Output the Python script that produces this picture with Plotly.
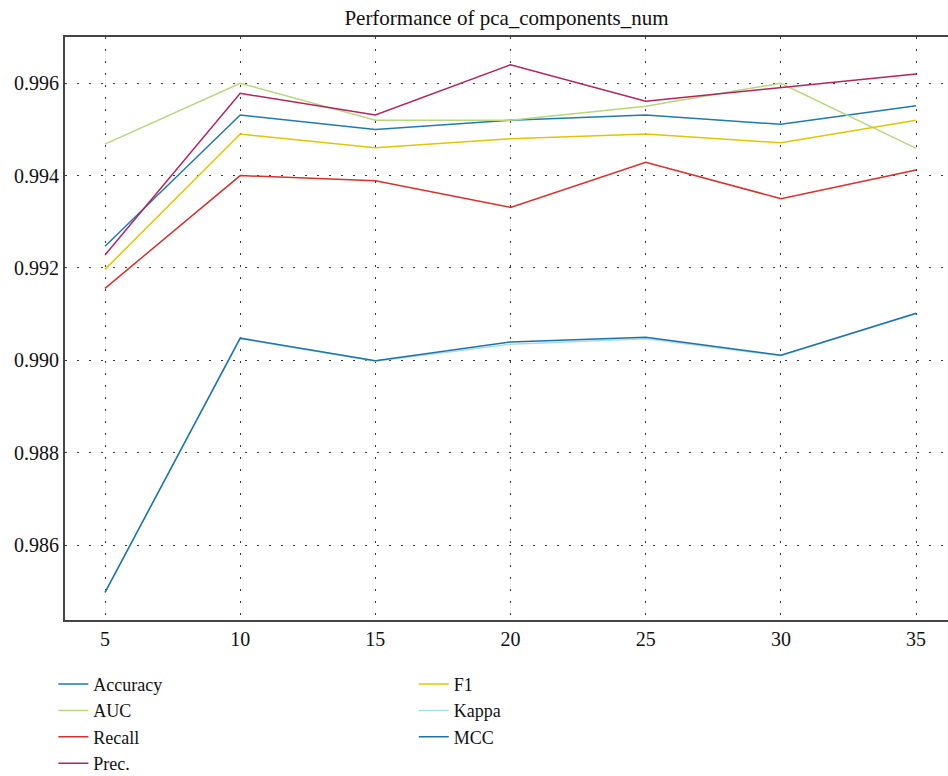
import plotly.graph_objects as go

x_vals = [5, 10, 15, 20, 25, 30, 35]
accuracy = [0.99247, 0.99531, 0.99500, 0.99520, 0.99531, 0.99511, 0.99551]
auc = [0.99468, 0.99600, 0.99520, 0.99520, 0.99550, 0.99600, 0.99459]
recall = [0.99156, 0.99400, 0.99389, 0.99331, 0.99429, 0.99350, 0.99412]
prec = [0.99228, 0.99578, 0.99531, 0.99640, 0.99561, 0.99591, 0.99620]
f1 = [0.99197, 0.99490, 0.99460, 0.99480, 0.99490, 0.99471, 0.99520]
kappa = [0.98497, 0.99047, 0.98998, 0.99035, 0.99047, 0.99010, 0.99101]
mcc = [0.98498, 0.99048, 0.98999, 0.99040, 0.99050, 0.99011, 0.99102]
y_ticks = [0.986, 0.988, 0.990, 0.992, 0.994, 0.996]

series = [
    ("Accuracy", accuracy, "#1f7ab0", "legend"),
    ("AUC", auc, "#b8d67c", "legend"),
    ("Recall", recall, "#d8302b", "legend"),
    ("Prec.", prec, "#b2245f", "legend"),
    ("F1", f1, "#e2c500", "legend2"),
    ("Kappa", kappa, "#a9dce9", "legend2"),
    ("MCC", mcc, "#1f72a6", "legend2"),
]

FONT = "Liberation Serif"

fig = go.Figure()
for name, vals, color, leg in series:
    fig.add_trace(go.Scatter(
        x=x_vals, y=vals, mode="lines", name=name,
        line=dict(color=color, width=1.5), legend=leg,
    ))

grid = dict(showgrid=True, gridcolor="#333", gridwidth=1, griddash="1.5px,10.5px")

fig.update_layout(
    width=948, height=776,
    margin=dict(l=65, r=0, t=37, b=156, autoexpand=False),
    paper_bgcolor="white", plot_bgcolor="white",
    font=dict(family=FONT, size=20, color="#111"),
    title=dict(text="Performance of pca_components_num", x=0.5, xref="paper",
               y=1 - 18 / 776, yanchor="middle", font=dict(size=21, family=FONT)),
    xaxis=dict(range=[3.52, 36.18], tickvals=x_vals, ticks="", zeroline=False,
               automargin=False, tickfont=dict(size=20),
               showline=True, linecolor="#444", linewidth=2, mirror=True, **grid),
    yaxis=dict(range=[0.98438, 0.997], tickvals=y_ticks,
               tickformat=".3f", ticks="", zeroline=False, automargin=False,
               tickfont=dict(size=20),
               showline=True, linecolor="#444", linewidth=2, **grid),
    legend=dict(orientation="v", x=-0.0132, xanchor="left", y=-0.0786, yanchor="top",
                font=dict(size=18, family=FONT), tracegroupgap=0, itemwidth=30,
                bgcolor="rgba(0,0,0,0)"),
    legend2=dict(orientation="v", x=0.395, xanchor="left", y=-0.0786, yanchor="top",
                 font=dict(size=18, family=FONT), tracegroupgap=0, itemwidth=30,
                 bgcolor="rgba(0,0,0,0)"),
)

fig.write_html("out.html", config={"displayModeBar": False},
               post_script="document.body.style.margin='0';")
